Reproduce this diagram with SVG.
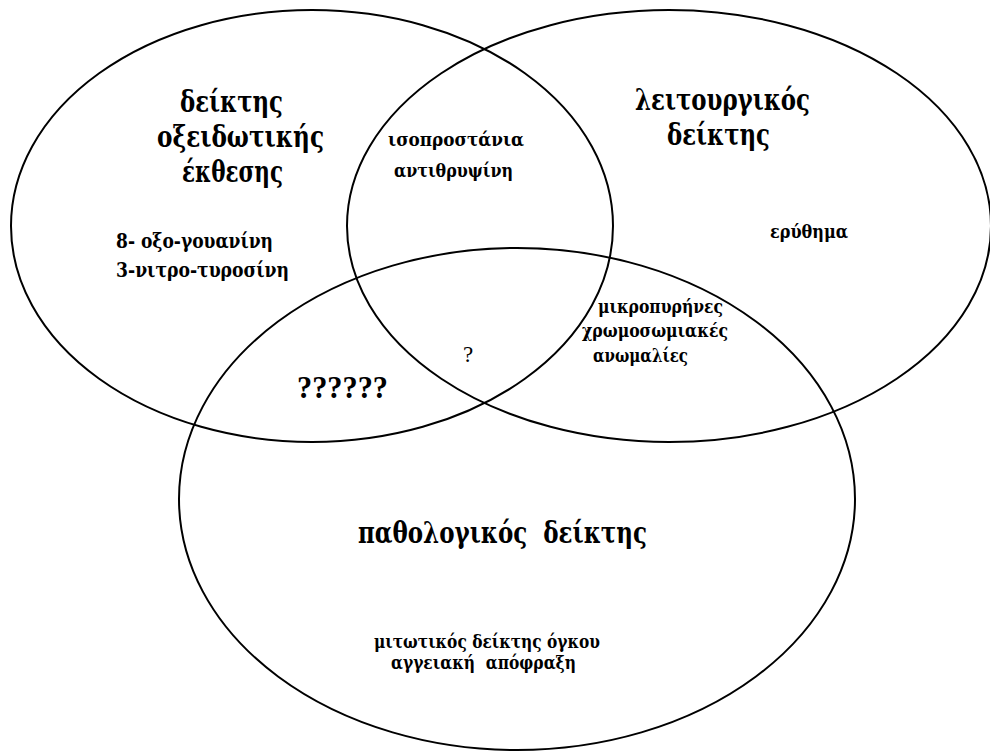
<svg xmlns="http://www.w3.org/2000/svg" width="990" height="753" viewBox="0 0 990 753">
<style>
.c{fill:none;stroke:#000;stroke-width:2}
.t{font-family:"DejaVu Serif Condensed","DejaVu Serif","Liberation Serif",serif;font-weight:bold;fill:#000;white-space:pre}
.big{font-size:30px}
.mid{font-size:20px}
.sm{font-size:18px}
</style>
<rect width="990" height="753" fill="#fff"/>
<g id="set-oxidative">
<ellipse class="c" cx="312" cy="226" rx="301" ry="216"/>
<text class="t big" x="180" y="112" textLength="103" lengthAdjust="spacingAndGlyphs">δείκτης</text>
<text class="t big" x="157" y="147" textLength="167" lengthAdjust="spacingAndGlyphs">οξειδωτικής</text>
<text class="t big" x="182" y="182" textLength="101" lengthAdjust="spacingAndGlyphs">έκθεσης</text>
<text class="t mid" x="116" y="248" textLength="157" lengthAdjust="spacingAndGlyphs">8- οξο-γουανίνη</text>
<text class="t mid" x="116" y="277" textLength="173" lengthAdjust="spacingAndGlyphs">3-νιτρο-τυροσίνη</text>
</g>
<g id="set-functional">
<ellipse class="c" cx="669" cy="226" rx="322" ry="216"/>
<text class="t big" x="635" y="110" textLength="175" lengthAdjust="spacingAndGlyphs">λειτουργικός</text>
<text class="t big" x="667" y="145" textLength="103" lengthAdjust="spacingAndGlyphs">δείκτης</text>
<text class="t sm" x="770" y="238" textLength="78" lengthAdjust="spacingAndGlyphs">ερύθημα</text>
</g>
<g id="set-pathological">
<ellipse class="c" cx="517" cy="499" rx="338" ry="251"/>
<text class="t big" x="358" y="543" textLength="289" lengthAdjust="spacingAndGlyphs">παθολογικός  δείκτης</text>
<text class="t sm" x="374" y="648" textLength="226" lengthAdjust="spacingAndGlyphs">μιτωτικός δείκτης όγκου</text>
<text class="t sm" x="391" y="669" textLength="185" lengthAdjust="spacingAndGlyphs">αγγειακή  απόφραξη</text>
</g>
<g id="overlap-ox-func">
<text class="t sm" x="388" y="146" textLength="136" lengthAdjust="spacingAndGlyphs">ισοπροστάνια</text>
<text class="t sm" x="394" y="177" textLength="119" lengthAdjust="spacingAndGlyphs">αντιθρυψίνη</text>
</g>
<g id="overlap-func-path">
<text class="t sm" x="598" y="313" textLength="125" lengthAdjust="spacingAndGlyphs">μικροπυρήνες</text>
<text class="t sm" x="582" y="337" textLength="146" lengthAdjust="spacingAndGlyphs">χρωμοσωμιακές</text>
<text class="t sm" x="593" y="362" textLength="95" lengthAdjust="spacingAndGlyphs">ανωμαλίες</text>
</g>
<g id="overlap-ox-path">
<text font-family="Liberation Serif, serif" font-weight="bold" font-size="31" x="297" y="398" textLength="91" lengthAdjust="spacingAndGlyphs">??????</text>
</g>
<g id="overlap-all">
<text font-family="Liberation Serif, serif" font-size="23" x="463" y="362">?</text>
</g>
<g id="connectors"/>
</svg>
